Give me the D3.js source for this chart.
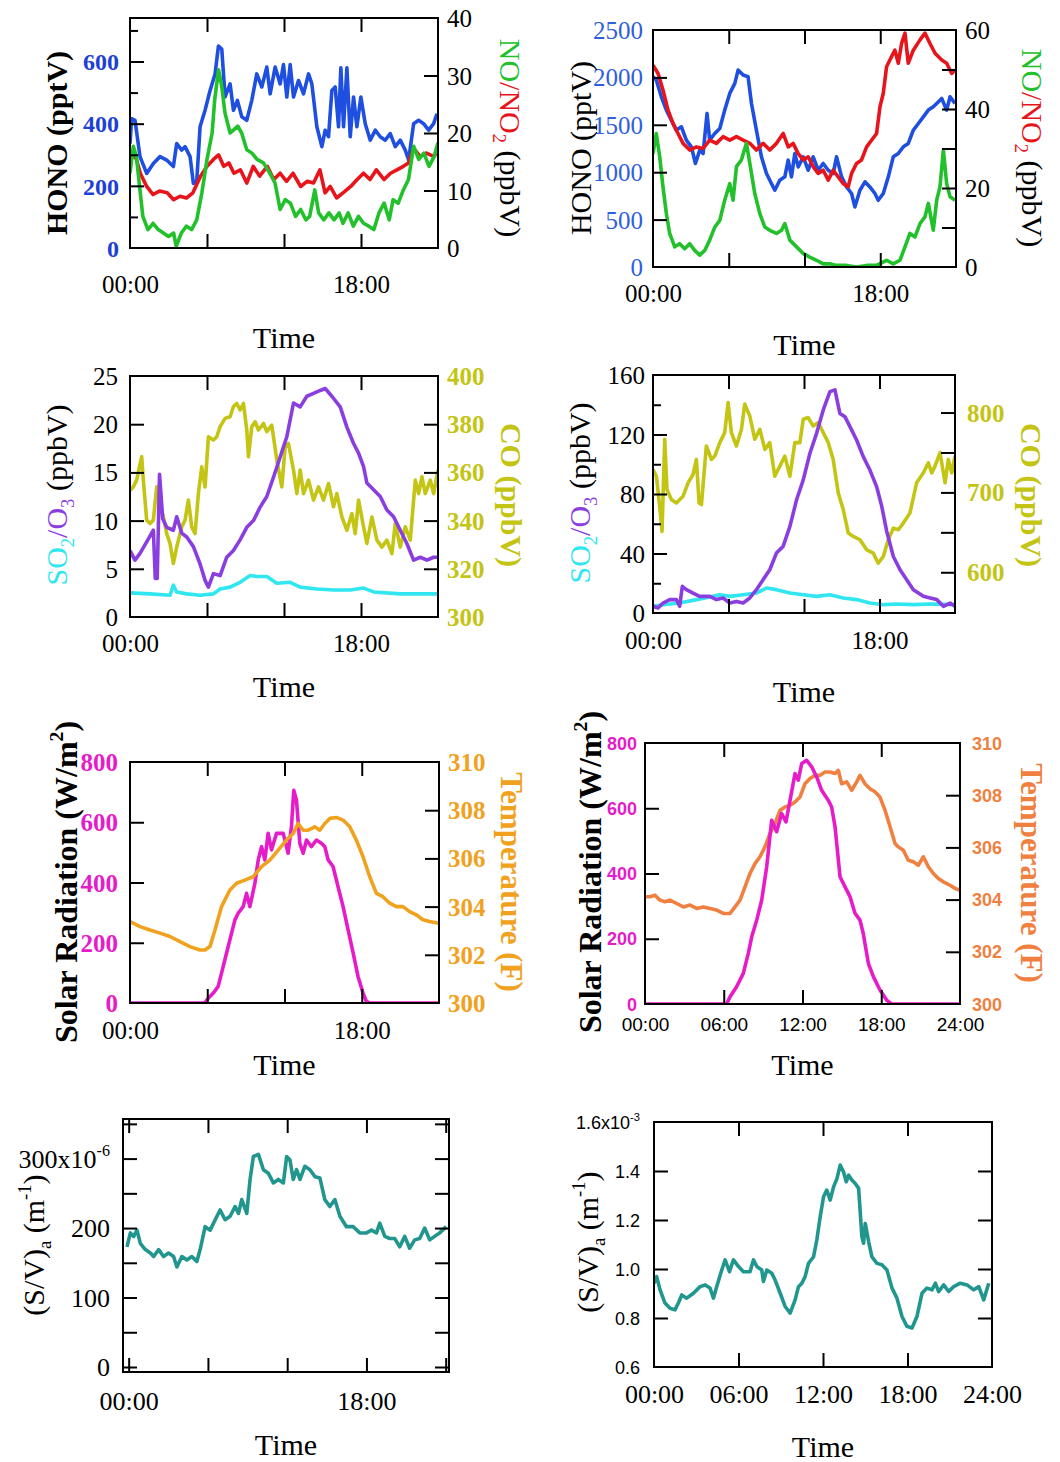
<!DOCTYPE html>
<html>
<head>
<meta charset="utf-8">
<script src="https://cdn.jsdelivr.net/npm/d3@7"></script>
<style>body{margin:0;background:#fff}</style>
</head>
<body>
<div id="chart"></div>
<script>
// ---------- data, [hour of day, value] ----------
// Panel 1: HONO (pptV) left, NO / NO2 (ppbV) right
const hono1 = [[0,336],[0.13,416],[0.39,411],[0.78,294],[1.3,240],[1.82,272],[2.34,294],[2.86,283],[3.38,262],[3.64,336],[4.03,315],[4.29,326],[4.68,294],[4.94,208],[5.2,214],[5.46,390],[5.85,443],[6.24,507],[6.63,560],[6.89,650],[7.15,640],[7.41,486],[7.8,528],[8.06,443],[8.37,475],[8.71,422],[9.1,411],[9.49,475],[9.88,560],[10.27,518],[10.66,582],[10.92,496],[11.31,582],[11.7,528],[11.96,590],[12.22,486],[12.48,590],[12.74,486],[13.13,539],[13.52,496],[13.91,560],[14.17,528],[14.56,390],[14.95,326],[15.21,379],[15.47,358],[15.73,507],[15.99,518],[16.25,390],[16.43,580],[16.64,390],[16.9,580],[17.16,358],[17.42,486],[17.68,390],[17.99,486],[18.33,400],[18.72,347],[19.11,379],[19.5,358],[19.89,347],[20.28,368],[20.67,326],[21.06,347],[21.45,315],[21.71,283],[22.1,400],[22.49,411],[22.88,400],[23.27,379],[23.66,400],[23.92,432]];
const no2_1 = [[0,14.8],[0.26,16.5],[0.5,15.4],[0.8,13.0],[1.3,10.7],[1.8,9.3],[2.3,9.9],[2.9,9.6],[3.4,8.4],[3.9,9.0],[4.4,8.7],[4.9,9.6],[5.5,12.5],[6.0,14.2],[6.5,15.4],[6.9,16.2],[7.3,14.2],[7.7,14.8],[8.1,13.0],[8.6,13.6],[9.1,11.3],[9.6,14.2],[10.1,12.5],[10.7,14.2],[11.2,11.9],[11.7,13.0],[12.2,11.6],[12.7,13.0],[13.3,10.7],[13.8,11.6],[14.3,11.3],[14.8,13.6],[15.2,9.6],[15.6,10.7],[16.1,8.7],[16.6,9.6],[17.2,10.7],[17.7,11.9],[18.2,13.0],[18.7,11.9],[19.2,13.6],[19.8,11.9],[20.3,13.0],[20.8,13.6],[21.3,14.2],[21.7,14.8],[22.1,17.4],[22.6,15.9],[23.1,16.5],[23.7,15.9],[24,17.1]];
const no_1 = [[0,13.0],[0.26,17.7],[0.5,15.9],[0.8,9.6],[1.0,5.5],[1.4,3.2],[1.8,4.3],[2.2,3.2],[2.6,2.6],[3.0,2.0],[3.4,2.6],[3.6,0.3],[4.0,2.6],[4.4,3.8],[4.8,3.2],[5.2,4.9],[5.6,9.6],[6.0,15.4],[6.4,20.0],[6.6,25.8],[6.9,31.0],[7.15,28.1],[7.4,23.5],[7.8,20.0],[8.1,20.6],[8.4,21.2],[8.7,20.0],[9.1,17.1],[9.5,16.5],[9.9,15.4],[10.4,14.8],[10.9,13.0],[11.3,11.3],[11.7,6.7],[12.1,8.4],[12.5,7.8],[12.9,5.5],[13.3,6.7],[13.7,4.9],[14.0,5.5],[14.4,10.1],[14.7,6.1],[15.1,4.9],[15.5,6.1],[15.9,4.9],[16.3,6.1],[16.6,4.3],[17.0,6.1],[17.4,3.8],[17.8,5.5],[18.2,4.3],[18.6,3.8],[19.0,3.2],[19.4,6.1],[19.8,7.8],[20.2,4.9],[20.5,8.4],[20.9,7.8],[21.3,10.1],[21.7,11.9],[22.1,17.7],[22.5,15.4],[22.9,16.5],[23.3,14.2],[23.7,15.9],[24,18.3]];

// Panel 2: HONO (pptV) left, NO / NO2 (ppbV) right
const hono2 = [[0,2007],[0.26,1972],[0.66,1796],[1.06,1655],[1.45,1549],[1.85,1444],[2.25,1479],[2.64,1338],[3.04,1268],[3.36,1092],[3.7,1232],[3.97,1197],[4.28,1620],[4.49,1338],[4.89,1408],[5.29,1461],[5.68,1655],[6.08,1831],[6.48,1937],[6.74,2077],[7.14,2025],[7.53,2007],[7.8,1725],[8.19,1444],[8.59,1162],[8.99,986],[9.38,880],[9.65,810],[10.04,915],[10.44,951],[10.71,1127],[10.97,951],[11.23,1197],[11.5,1056],[11.9,1162],[12.29,1021],[12.69,1162],[13.08,1021],[13.48,1092],[13.88,1021],[14.27,986],[14.54,1162],[14.94,951],[15.33,845],[15.73,775],[15.99,634],[16.39,810],[16.79,898],[17.18,845],[17.58,775],[17.84,704],[18.24,775],[18.64,951],[19.03,1162],[19.43,1197],[19.83,1268],[20.22,1303],[20.62,1444],[21.02,1514],[21.41,1584],[21.81,1655],[22.2,1690],[22.47,1725],[22.87,1778],[23.26,1655],[23.53,1796],[23.92,1725]];
const no2_2 = [[0,51.1],[0.4,49.0],[0.79,44.8],[1.19,39.7],[1.59,36.3],[1.98,33.8],[2.38,31.3],[2.91,29.6],[3.44,30.4],[3.97,30.0],[4.49,32.1],[5.02,31.3],[5.55,33.0],[6.08,32.1],[6.61,33.0],[7.14,32.1],[7.67,31.3],[8.19,29.6],[8.72,31.3],[9.25,29.6],[9.78,31.3],[10.31,33.8],[10.71,30.4],[11.1,31.3],[11.5,28.7],[11.9,27.1],[12.29,27.9],[12.69,25.4],[13.08,23.7],[13.48,24.5],[13.88,22.0],[14.27,24.5],[14.67,22.8],[15.07,21.1],[15.46,20.3],[15.73,23.7],[16.12,26.2],[16.52,27.1],[16.92,30.4],[17.31,32.1],[17.71,33.8],[17.98,40.6],[18.24,44.0],[18.5,50.7],[18.9,53.3],[19.16,54.9],[19.43,51.6],[19.69,56.6],[19.96,59.2],[20.22,51.6],[20.62,54.9],[21.15,57.5],[21.54,59.2],[21.94,56.6],[22.34,54.1],[22.87,52.4],[23.26,51.6],[23.66,49.0],[23.92,49.9]];
const no_2 = [[0,28.7],[0.26,33.8],[0.53,27.9],[0.79,20.3],[1.06,13.5],[1.32,8.5],[1.72,5.1],[2.11,5.9],[2.51,4.6],[2.91,5.9],[3.3,4.2],[3.7,3.0],[4.1,4.2],[4.49,6.8],[4.89,10.1],[5.29,11.8],[5.68,16.9],[6.08,21.1],[6.34,16.9],[6.61,25.4],[7.0,27.1],[7.4,31.3],[7.67,26.2],[8.06,18.6],[8.46,13.5],[8.86,10.1],[9.25,9.3],[9.78,8.5],[10.18,9.3],[10.44,11.0],[10.84,6.8],[11.37,5.1],[11.9,3.4],[12.42,2.5],[12.95,1.7],[13.48,0.8],[14.01,0.8],[14.54,0.4],[15.33,0.4],[16.12,0],[16.92,0.4],[17.71,0.4],[18.5,1.7],[19.03,0.8],[19.56,1.7],[19.96,5.1],[20.35,8.5],[20.75,7.6],[21.15,11.0],[21.54,12.7],[21.81,16.1],[22.2,9.3],[22.47,16.9],[22.73,20.3],[23.0,29.6],[23.26,21.1],[23.53,17.8],[23.92,16.9]];

// Panel 3: SO2 / O3 (ppbV) left, CO (ppbV) right
const so2_3 = [[0,2.5],[1.56,2.4],[3.12,2.25],[3.38,3.3],[3.64,2.6],[4.42,2.4],[5.46,2.25],[6.5,2.4],[7.02,2.9],[7.8,3.1],[8.58,3.6],[9.36,4.3],[9.88,4.2],[10.66,4.2],[11.44,3.5],[12.48,3.6],[13.26,3.1],[14.56,2.9],[15.86,2.8],[17.16,2.8],[18.2,3.0],[18.98,2.6],[21.06,2.4],[24,2.4]];
const o3_3 = [[0,6.9],[0.39,5.9],[0.78,6.6],[1.3,7.8],[1.82,9.0],[1.97,4.0],[2.12,4.0],[2.3,14.8],[2.55,10.2],[2.86,9.3],[3.38,9.0],[3.64,10.4],[4.03,8.7],[4.42,8.3],[4.94,7.3],[5.46,5.5],[5.85,3.8],[6.11,3.1],[6.5,4.5],[7.02,4.3],[7.54,6.2],[8.06,6.9],[8.58,8.0],[9.1,9.3],[9.62,10.0],[10.14,11.4],[10.66,12.5],[11.18,14.5],[11.7,16.6],[12.22,18.7],[12.74,22.2],[13.26,21.8],[13.78,22.9],[14.3,23.2],[14.82,23.5],[15.21,23.7],[15.73,22.9],[16.38,21.8],[16.9,19.7],[17.42,18.0],[17.81,17.0],[18.2,15.6],[18.46,13.9],[18.98,13.2],[19.5,12.5],[20.02,11.1],[20.54,10.4],[21.06,9.0],[21.58,7.6],[22.1,5.9],[22.62,6.2],[23.14,5.9],[23.66,6.2],[24,6.2]];
const co_3 = [[0,352.6],[0.26,354],[0.52,356.8],[0.91,366.5],[1.04,356.8],[1.3,340.2],[1.56,338.8],[1.82,340.2],[2.08,354],[2.34,347],[2.6,341.5],[2.86,334.6],[3.12,330.5],[3.38,322.2],[3.64,329],[4.03,337.4],[4.29,340.2],[4.55,348.5],[4.81,337.4],[5.07,334.6],[5.33,351.2],[5.59,362.3],[5.85,354],[6.11,374.8],[6.5,373.4],[6.76,374.8],[7.02,379],[7.41,382.4],[7.8,383.1],[8.06,387.3],[8.32,388.6],[8.58,385.9],[8.84,388.6],[9.1,377.6],[9.23,366.5],[9.49,379],[9.75,381],[10.01,377.6],[10.4,380.3],[10.66,376.9],[11.05,379.6],[11.44,365.1],[11.83,354],[12.09,370.6],[12.35,372],[12.74,361],[13.0,351.2],[13.26,361],[13.52,351.2],[13.91,356.8],[14.3,348.5],[14.69,354],[15.08,348.5],[15.47,355.4],[15.86,345.7],[16.12,351.2],[16.51,341.5],[16.9,336],[17.29,342.9],[17.55,334.6],[17.81,348.5],[18.2,337.4],[18.46,330.5],[18.85,341.5],[19.24,331.9],[19.63,329],[20.02,331.9],[20.41,326.3],[20.67,338.8],[21.06,329],[21.45,337.4],[21.84,331.9],[22.23,356.8],[22.49,351.2],[22.75,358.2],[23.01,351.2],[23.4,356.8],[23.66,351.2],[24,361]];

// Panel 4: SO2 / O3 (ppbV) left, CO (ppbV) right
const so2_4 = [[0,4.5],[0.8,5.6],[2.12,6.7],[3.45,9.0],[4.51,10.7],[5.3,12.3],[6.1,11.2],[7.16,12.3],[8.22,13.4],[9.02,16.8],[9.81,15.7],[10.88,13.4],[11.94,12.3],[13.0,11.2],[14.06,12.3],[15.12,10.1],[16.18,9.0],[17.24,6.7],[18.3,5.6],[19.36,6.0],[20.69,5.6],[22.02,6.0],[24,5.6]];
const o3_4 = [[0,4.5],[0.4,3.4],[0.8,6.7],[1.33,9.0],[1.86,9.0],[2.12,4.5],[2.33,17.9],[2.65,15.7],[3.18,13.4],[3.71,11.2],[4.51,11.2],[5.04,9.0],[5.57,10.1],[6.1,6.7],[6.63,7.8],[7.16,6.7],[7.69,10.1],[8.22,15.7],[8.75,22.4],[9.28,29.1],[9.81,40.3],[10.34,44.8],[10.88,58.2],[11.41,76.1],[11.94,89.5],[12.47,107.4],[13.0,120.8],[13.53,136.5],[14.06,148.8],[14.46,150],[14.85,134.2],[15.25,132],[15.65,125.3],[16.18,116.3],[16.71,105.1],[17.24,96.1],[17.77,85],[18.17,72],[18.57,55],[19.1,38],[19.63,29.1],[20.16,22.4],[20.69,15.7],[21.49,11.2],[22.02,10.1],[22.55,9.0],[23.08,4.5],[23.61,6.7],[24,4.5]];
const co_4 = [[0,728.7],[0.27,720.3],[0.53,682.6],[0.72,651],[0.93,766.5],[1.11,703.6],[1.46,691],[1.86,686.8],[2.39,695.2],[2.79,712],[3.18,722.4],[3.45,741.3],[3.66,686.8],[3.85,684.7],[4.24,758.1],[4.64,741.3],[4.91,745.5],[5.31,762.3],[5.7,774.8],[5.97,812.6],[6.23,774.8],[6.63,758.1],[7.03,779],[7.29,810.5],[7.69,795.8],[8.09,766.5],[8.49,779],[8.89,753.9],[9.28,762.3],[9.68,720.3],[10.08,732.9],[10.48,745.5],[10.88,720.3],[11.27,762.3],[11.67,762.3],[11.94,791.6],[12.33,793.7],[12.73,783.2],[13.13,787.4],[13.53,774.8],[13.93,762.3],[14.32,741.3],[14.72,699.4],[15.12,678.4],[15.52,649.1],[15.92,644.9],[16.45,640.7],[16.98,628.1],[17.51,623.9],[17.9,611.3],[18.3,619.7],[18.7,640.7],[19.1,655.3],[19.5,653.2],[19.89,661.6],[20.42,674.2],[20.95,712],[21.49,724.5],[21.88,737.1],[22.15,724.5],[22.41,732.9],[22.81,749.7],[23.21,712],[23.47,741.3],[23.74,724.5],[24,745.5]];

// Panel 5: solar radiation (W/m2) left, temperature right
const solar5 = [[0,0],[5.8,0],[6.08,16],[6.47,33],[6.85,55],[7.11,99],[7.5,166],[7.89,232],[8.15,276],[8.4,298],[8.79,320],[9.05,364],[9.31,320],[9.7,397],[9.96,475],[10.22,519],[10.47,475],[10.73,563],[10.99,508],[11.38,563],[11.9,563],[12.28,497],[12.54,585],[12.72,706],[12.93,673],[13.19,530],[13.45,497],[13.71,541],[14.09,519],[14.48,541],[14.87,530],[15.13,519],[15.39,475],[15.77,453],[16.16,386],[16.55,320],[16.94,243],[17.33,166],[17.71,88],[18.1,33],[18.36,5],[18.62,0],[24,0]];
const temp5 = [[0,303.38],[0.78,303.17],[1.55,303.03],[2.33,302.9],[3.1,302.76],[3.88,302.55],[4.65,302.34],[5.43,302.2],[5.82,302.2],[6.21,302.34],[6.6,303.03],[7.11,304.0],[7.76,304.69],[8.28,304.97],[8.92,305.1],[9.57,305.24],[10.22,305.66],[10.86,305.93],[11.51,306.34],[12.15,306.76],[12.67,307.03],[13.06,307.45],[13.45,307.17],[13.84,307.17],[14.35,307.31],[14.74,307.17],[15.13,307.45],[15.52,307.66],[16.03,307.7],[16.55,307.59],[17.07,307.31],[17.58,306.76],[18.1,306.07],[18.62,305.24],[19.14,304.55],[19.65,304.41],[20.17,304.14],[20.69,304.0],[21.2,304.0],[21.72,303.79],[22.24,303.66],[22.76,303.45],[23.27,303.38],[24,303.31]];

// Panel 6: solar radiation (W/m2) left, temperature right
const solar6 = [[0,0],[6.22,0],[6.48,22],[6.98,53],[7.49,94],[7.87,155],[8.13,206],[8.51,257],[8.89,318],[9.27,420],[9.65,563],[10.03,528],[10.41,584],[10.74,558],[11.05,624],[11.43,706],[11.68,686],[11.94,737],[12.32,747],[12.7,727],[13.08,696],[13.46,655],[13.97,624],[14.22,604],[14.48,543],[14.86,390],[15.24,359],[15.62,329],[16.0,278],[16.38,257],[16.63,216],[17.02,124],[17.4,84],[17.9,43],[18.41,12],[18.79,0],[24,0]];
const temp6 = [[0,304.11],[0.38,304.11],[0.76,304.17],[1.14,303.98],[1.52,303.92],[1.9,303.98],[2.41,303.85],[2.92,303.72],[3.43,303.79],[3.94,303.66],[4.44,303.72],[4.95,303.66],[5.46,303.6],[5.97,303.47],[6.48,303.47],[6.86,303.72],[7.24,303.98],[7.62,304.49],[8.0,305.0],[8.38,305.38],[8.76,305.64],[9.14,306.02],[9.52,306.53],[9.9,306.91],[10.29,307.42],[10.67,307.55],[11.05,307.61],[11.43,307.74],[11.81,307.93],[12.19,308.44],[12.57,308.64],[12.95,308.76],[13.33,308.76],[13.71,308.89],[14.1,308.89],[14.48,308.83],[14.73,308.95],[14.98,308.44],[15.37,308.51],[15.75,308.19],[16.13,308.51],[16.38,308.76],[16.76,308.44],[17.14,308.25],[17.52,308.13],[17.9,307.93],[18.29,307.42],[18.67,306.79],[19.05,306.15],[19.3,306.02],[19.68,305.89],[20.06,305.51],[20.44,305.45],[20.83,305.32],[21.21,305.64],[21.59,305.26],[21.97,305.0],[22.35,304.81],[22.73,304.68],[23.24,304.55],[23.62,304.43],[24,304.36]];

// Panel 7: (S/V)a in 1e-6 m-1
const sv7 = [[-0.13,173],[0.13,193],[0.38,188],[0.63,197],[0.88,178],[1.26,169],[1.64,164],[1.89,159],[2.27,169],[2.64,159],[3.02,164],[3.4,159],[3.65,144],[4.03,159],[4.41,154],[4.78,159],[5.16,152],[5.41,169],[5.79,202],[6.17,197],[6.55,212],[6.92,226],[7.3,212],[7.68,217],[8.06,231],[8.31,221],[8.56,241],[8.94,221],[9.19,270],[9.44,303],[9.82,306],[10.2,284],[10.57,279],[10.95,265],[11.33,270],[11.71,265],[11.96,303],[12.21,298],[12.46,270],[12.71,284],[12.97,270],[13.34,289],[13.72,284],[14.1,274],[14.48,272],[14.85,241],[15.23,231],[15.61,241],[15.99,217],[16.49,202],[16.99,202],[17.5,193],[18.0,193],[18.38,197],[18.76,193],[19.01,207],[19.39,188],[19.76,185],[20.14,185],[20.52,173],[20.9,188],[21.27,171],[21.65,183],[22.03,185],[22.41,200],[22.79,183],[23.16,188],[23.54,193],[24.04,202]];

// Panel 8: (S/V)a in 1e-3 m-1
const sv8 = [[0,0.942],[0.19,0.969],[0.43,0.915],[0.78,0.861],[1.14,0.84],[1.49,0.833],[1.73,0.861],[1.97,0.894],[2.32,0.881],[2.8,0.901],[3.27,0.928],[3.63,0.935],[3.98,0.922],[4.22,0.881],[4.45,0.928],[4.81,0.996],[5.05,1.037],[5.36,0.989],[5.64,1.037],[6.0,1.01],[6.35,0.989],[6.82,0.989],[7.06,1.037],[7.3,1.01],[7.65,0.996],[7.77,0.949],[8.01,0.996],[8.36,0.983],[8.6,0.955],[8.96,0.901],[9.31,0.847],[9.67,0.82],[10.02,0.874],[10.26,0.928],[10.5,0.942],[10.73,0.969],[10.97,1.023],[11.33,1.05],[11.56,1.118],[11.8,1.213],[12.04,1.295],[12.27,1.322],[12.51,1.281],[12.75,1.335],[12.99,1.369],[13.22,1.424],[13.46,1.396],[13.65,1.356],[13.82,1.383],[14.05,1.363],[14.29,1.349],[14.53,1.329],[14.76,1.132],[14.88,1.105],[15.0,1.186],[15.24,1.112],[15.47,1.05],[15.83,1.023],[16.18,1.017],[16.54,0.996],[16.9,0.922],[17.25,0.881],[17.61,0.806],[17.96,0.766],[18.32,0.759],[18.67,0.806],[19.03,0.901],[19.38,0.922],[19.74,0.915],[19.98,0.942],[20.21,0.908],[20.57,0.935],[20.92,0.908],[21.28,0.928],[21.75,0.942],[22.23,0.935],[22.7,0.915],[23.06,0.928],[23.41,0.874],[23.77,0.942]];

// tick values
const hourTicks = [6, 12, 18];
const hourTicksAll = [0, 6, 12, 18, 24];
const hourLabelsShort = [0, 18];
const hourLabelsAll = [0, 6, 12, 18, 24];

const SERIF = "'Liberation Serif','Times New Roman',serif";
const SANS = "'Liberation Sans',Arial,sans-serif";
const C = {
  blue: "#1f4fe0", red: "#e8141c", green: "#22c02a", cyan: "#30e6f0",
  purple: "#8a3ee0", olive: "#c4c414", magenta: "#e61cc8", orange: "#f0a21e",
  coral: "#f08040", teal: "#20968f"
};
const hhmm = h => String(h).padStart(2, "0") + ":00";

const svg = d3.select("#chart").append("svg")
  .attr("width", 1060).attr("height", 1462)
  .style("background", "#fff");

let clipN = 0;

function drawPanel(p) {
  const [bx, by, bw, bh] = p.box;
  const bottom = by + bh;
  const x = d3.scaleLinear().domain(p.xDomain).range([bx, bx + bw]);
  const yL = d3.scaleLinear().domain(p.left.domain).range([bottom, by]);
  const yR = p.right ? d3.scaleLinear().domain(p.right.domain).range([bottom, by]) : null;
  const g = svg.append("g");

  const id = "clip" + (clipN++);
  svg.append("clipPath").attr("id", id).append("rect")
    .attr("x", bx).attr("y", by).attr("width", bw).attr("height", bh);

  p.series.forEach(s => {
    const ys = s.right ? yR : yL;
    g.append("path").datum(s.data)
      .attr("clip-path", `url(#${id})`)
      .attr("fill", "none")
      .attr("stroke", s.color)
      .attr("stroke-width", 3.6)
      .attr("stroke-linejoin", "round")
      .attr("d", d3.line().x(d => x(d[0])).y(d => ys(d[1])));
  });

  g.append("rect").attr("x", bx).attr("y", by).attr("width", bw).attr("height", bh)
    .attr("fill", "none").attr("stroke", "#000").attr("stroke-width", 2);

  const put = (axis, tr) => g.append("g").attr("transform", tr).call(axis)
    .call(a => {
      a.select(".domain").remove();
      a.selectAll("line").attr("stroke", "#000").attr("stroke-width", 2);
    });

  // inward tick marks
  put(d3.axisBottom(x).tickValues(p.xTicks).tickSize(-14).tickFormat(""), `translate(0,${bottom})`);
  put(d3.axisTop(x).tickValues(p.xTicks).tickSize(-14).tickFormat(""), `translate(0,${by})`);
  (p.left.ticks || []).forEach(([vals, len]) =>
    put(d3.axisLeft(yL).tickValues(vals).tickSize(-len).tickFormat(""), `translate(${bx},0)`));
  const rTicks = p.right ? p.right.ticks : (p.left.mirror || []);
  const rScale = p.right ? yR : yL;
  rTicks.forEach(([vals, len]) =>
    put(d3.axisRight(rScale).tickValues(vals).tickSize(-len).tickFormat(""), `translate(${bx + bw},0)`));

  // labels
  const styleText = (a, f) => a.selectAll("text")
    .attr("font-family", f.family).attr("font-size", f.size)
    .attr("font-weight", f.weight || "normal").attr("fill", f.color || "#000");

  const xl = p.xLabels;
  put(d3.axisBottom(x).tickValues(xl.values).tickSize(0).tickPadding(xl.pad).tickFormat(hhmm),
      `translate(0,${bottom})`).call(a => styleText(a, xl));

  const ll = p.left;
  put(d3.axisLeft(yL).tickValues(ll.labels).tickSize(0).tickPadding(ll.pad).tickFormat(ll.format || (d => d)),
      `translate(${bx},0)`).call(a => {
        styleText(a, ll);
        a.selectAll("text").attr("dy", "0.34em");
        if (ll.sup) a.selectAll(".tick text").filter(d => d === ll.sup.value).each(function () {
          const t = d3.select(this).text(null);
          t.append("tspan").text(ll.sup.base);
          t.append("tspan").text(ll.sup.exp).attr("dy", -ll.size * 0.45).attr("font-size", ll.size * 0.62);
        });
      });

  if (p.right) {
    const rl = p.right;
    put(d3.axisRight(yR).tickValues(rl.labels).tickSize(0).tickPadding(rl.pad).tickFormat(d => d),
        `translate(${bx + bw},0)`).call(a => {
          styleText(a, rl);
          a.selectAll("text").attr("dy", "0.34em");
        });
  }

  // "Time"
  svg.append("text").attr("x", bx + bw / 2).attr("y", p.timeY)
    .attr("text-anchor", "middle").attr("font-family", SERIF).attr("font-size", 30)
    .text("Time");

  return {x, yL, yR};
}

// rotated axis title built from coloured / shifted parts
function title(cx, cy, rot, size, weight, parts) {
  const off = rot < 0 ? 0.33 * size : -0.33 * size;
  const t = svg.append("text")
    .attr("transform", `translate(${cx + off},${cy}) rotate(${rot})`)
    .attr("text-anchor", "middle").attr("font-family", SERIF)
    .attr("font-size", size).attr("font-weight", weight);
  let shift = 0;
  parts.forEach(pt => {
    const want = pt.sub ? 0.25 * size : pt.sup ? -0.42 * size : 0;
    const ts = t.append("tspan").text(pt.t).attr("fill", pt.c || "#000");
    if (want !== shift) ts.attr("dy", want - shift);
    if (pt.sub || pt.sup) ts.attr("font-size", size * 0.62);
    shift = want;
  });
}

// ---------- Panel 1 ----------
drawPanel({
  box: [130, 18, 308, 230], xDomain: [0, 24], timeY: 348,
  xTicks: hourTicks,
  xLabels: {values: hourLabelsShort, pad: 27, family: SERIF, size: 25},
  left: {domain: [0, 740], labels: [0, 200, 400, 600], pad: 11, family: SERIF, size: 24, weight: "bold", color: "#1d40d6",
         ticks: [[[200, 400, 600], 14], [[100, 300, 500, 700], 8]]},
  right: {domain: [0, 40], labels: [0, 10, 20, 30, 40], pad: 9, family: SERIF, size: 25,
          ticks: [[[10, 20, 30], 14]]},
  series: [
    {data: hono1, color: C.blue},
    {data: no2_1, color: C.red, right: true},
    {data: no_1, color: C.green, right: true}
  ]
});
title(57, 143, -90, 30, "bold", [{t: "HONO (pptV)"}]);
title(510, 138, 90, 30, "normal", [{t: "NO", c: C.green}, {t: "/NO", c: C.red}, {t: "2", c: C.red, sub: true}, {t: " (ppbV)"}]);

// ---------- Panel 2 ----------
drawPanel({
  box: [653, 30, 303, 237], xDomain: [0, 24], timeY: 355,
  xTicks: hourTicks,
  xLabels: {values: hourLabelsShort, pad: 17, family: SERIF, size: 25},
  left: {domain: [0, 2500], labels: [0, 500, 1000, 1500, 2000, 2500], pad: 10, family: SERIF, size: 25, color: "#2f5fdc",
         ticks: [[[500, 1000, 1500, 2000], 14]]},
  right: {domain: [0, 60], labels: [0, 20, 40, 60], pad: 9, family: SERIF, size: 25,
          ticks: [[[10, 20, 30, 40, 50], 14]]},
  series: [
    {data: hono2, color: C.blue},
    {data: no2_2, color: C.red, right: true},
    {data: no_2, color: C.green, right: true}
  ]
});
title(581, 148, -90, 30, "normal", [{t: "HONO (pptV)"}]);
title(1032, 148, 90, 30, "normal", [{t: "NO", c: C.green}, {t: "/NO", c: C.red}, {t: "2", c: C.red, sub: true}, {t: " (ppbV)"}]);

// ---------- Panel 3 ----------
drawPanel({
  box: [130, 376, 308, 241], xDomain: [0, 24], timeY: 697,
  xTicks: hourTicks,
  xLabels: {values: hourLabelsShort, pad: 17, family: SERIF, size: 25},
  left: {domain: [0, 25], labels: [0, 5, 10, 15, 20, 25], pad: 12, family: SERIF, size: 25,
         ticks: [[[5, 10, 15, 20], 14]]},
  right: {domain: [300, 400], labels: [300, 320, 340, 360, 380, 400], pad: 9, family: SERIF, size: 25, weight: "bold", color: C.olive,
          ticks: [[[320, 340, 360, 380], 14]]},
  series: [
    {data: co_3, color: C.olive, right: true},
    {data: o3_3, color: C.purple},
    {data: so2_3, color: C.cyan}
  ]
});
title(57, 495, -90, 30, "normal", [{t: "SO", c: C.cyan}, {t: "2", c: C.cyan, sub: true}, {t: "/O", c: C.purple}, {t: "3", c: C.purple, sub: true}, {t: " (ppbV)"}]);
title(511, 495, 90, 30, "bold", [{t: "CO (ppbV)", c: C.olive}]);

// ---------- Panel 4 ----------
drawPanel({
  box: [653, 375, 302, 238], xDomain: [0, 24], timeY: 702,
  xTicks: hourTicks,
  xLabels: {values: hourLabelsShort, pad: 18, family: SERIF, size: 25},
  left: {domain: [0, 160], labels: [0, 40, 80, 120, 160], pad: 8, family: SERIF, size: 25,
         ticks: [[[40, 80, 120], 14], [[20, 60, 100, 140], 8]]},
  right: {domain: [549, 847], labels: [600, 700, 800], pad: 12, family: SERIF, size: 25, weight: "bold", color: C.olive,
          ticks: [[[600, 650, 700, 750, 800], 14]]},
  series: [
    {data: co_4, color: C.olive, right: true},
    {data: so2_4, color: C.cyan},
    {data: o3_4, color: C.purple}
  ]
});
title(580, 493, -90, 30, "normal", [{t: "SO", c: C.cyan}, {t: "2", c: C.cyan, sub: true}, {t: "/O", c: C.purple}, {t: "3", c: C.purple, sub: true}, {t: " (ppbV)"}]);
title(1031, 495, 90, 30, "bold", [{t: "CO (ppbV)", c: C.olive}]);

// ---------- Panel 5 ----------
drawPanel({
  box: [130, 762, 309, 241], xDomain: [0, 24], timeY: 1075,
  xTicks: hourTicks,
  xLabels: {values: hourLabelsShort, pad: 18, family: SERIF, size: 25},
  left: {domain: [0, 800], labels: [0, 200, 400, 600, 800], pad: 12, family: SERIF, size: 25, weight: "bold", color: C.magenta,
         ticks: [[[200, 400, 600], 14]]},
  right: {domain: [300, 310], labels: [300, 302, 304, 306, 308, 310], pad: 9, family: SERIF, size: 25, weight: "bold", color: C.orange,
          ticks: [[[302, 304, 306, 308], 14]]},
  series: [
    {data: solar5, color: C.magenta},
    {data: temp5, color: C.orange, right: true}
  ]
});
title(66, 882, -90, 32, "bold", [{t: "Solar Radiation (W/m"}, {t: "2", sup: true}, {t: ")"}]);
title(511, 882, 90, 31, "bold", [{t: "Temperature (F)", c: C.orange}]);

// ---------- Panel 6 ----------
drawPanel({
  box: [645, 743, 315, 261], xDomain: [0, 24], timeY: 1075,
  xTicks: hourTicks,
  xLabels: {values: hourLabelsAll, pad: 14, family: SANS, size: 19},
  left: {domain: [0, 800], labels: [0, 200, 400, 600, 800], pad: 8, family: SANS, size: 18, weight: "bold", color: C.magenta,
         ticks: [[[200, 400, 600], 14]]},
  right: {domain: [300, 310], labels: [300, 302, 304, 306, 308, 310], pad: 12, family: SANS, size: 18, weight: "bold", color: C.coral,
          ticks: [[[302, 304, 306, 308], 14]]},
  series: [
    {data: temp6, color: C.coral, right: true},
    {data: solar6, color: C.magenta}
  ]
});
title(590, 872, -90, 32, "bold", [{t: "Solar Radiation (W/m"}, {t: "2", sup: true}, {t: ")"}]);
title(1031, 873, 90, 31, "bold", [{t: "Temperature (F)", c: C.coral}]);

// ---------- Panel 7 ----------
drawPanel({
  box: [123, 1119, 326, 253], xDomain: [-0.43, 24.25], timeY: 1455,
  xTicks: hourTicksAll,
  xLabels: {values: hourLabelsShort, pad: 20, family: SERIF, size: 26},
  left: {domain: [-7.2, 357], labels: [0, 100, 200, 300], pad: 13, family: SERIF, size: 26,
         sup: {value: 300, base: "300x10", exp: "-6"},
         ticks: [[[0, 50, 100, 150, 200, 250, 300, 350], 14]],
         mirror: [[[0, 50, 100, 150, 200, 250, 300, 350], 14]]},
  series: [{data: sv7, color: C.teal}]
});
title(34, 1245, -90, 30, "normal", [{t: "(S/V)"}, {t: "a", sub: true}, {t: " (m"}, {t: "-1", sup: true}, {t: ")"}]);

// ---------- Panel 8 ----------
drawPanel({
  box: [654, 1122, 338, 245], xDomain: [0, 24], timeY: 1457,
  xTicks: hourTicks,
  xLabels: {values: hourLabelsAll, pad: 18, family: SERIF, size: 26},
  left: {domain: [0.6, 1.6], labels: [0.6, 0.8, 1.0, 1.2, 1.4, 1.6], pad: 14, family: SANS, size: 18,
         format: d3.format(".1f"),
         sup: {value: 1.6, base: "1.6x10", exp: "-3"},
         ticks: [[[0.8, 1.0, 1.2, 1.4], 14]],
         mirror: [[[0.8, 1.0, 1.2, 1.4], 14]]},
  series: [{data: sv8, color: C.teal}]
});
title(588, 1242, -90, 30, "normal", [{t: "(S/V)"}, {t: "a", sub: true}, {t: " (m"}, {t: "-1", sup: true}, {t: ")"}]);
</script>
</body>
</html>
